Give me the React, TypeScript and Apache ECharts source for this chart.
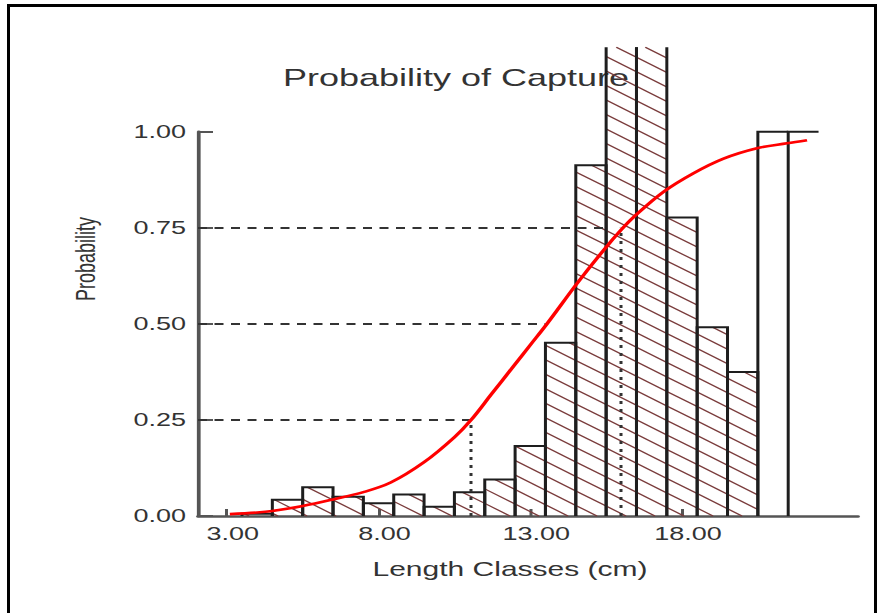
import React, { useEffect, useRef } from "react";
import * as echarts from "echarts";

// ---- text ----
const titleText = "Probability of Capture";
const xAxisName = "Length Classes (cm)";
const yAxisName = "Probability";

// ---- axes ----
const xTickValues = [3, 8, 13, 18];
const xMin = 2.05;
const xMax = 23.8;
const yMin = 0;
const yMax = 1;
const yInterval = 0.25;

// ---- length-frequency bars (hatched) ----
const hatchedCenters = [4, 5, 6, 7, 8, 9, 10, 11, 12, 13, 14, 15, 16, 17, 18, 19, 20];
const hatchedValues = [0.006, 0.042, 0.075, 0.05, 0.033, 0.056, 0.024, 0.062, 0.095, 0.182, 0.451, 0.913, 1.45, 1.4, 0.777, 0.491, 0.375];

// ---- open (white) bars ----
const openCenters = [21, 22];
const openValues = [1.0, 1.0];

// ---- probability of capture curve ----
const curveX = [3.1, 4.0, 4.5, 5.5, 6.5, 7.5, 8.4, 9.5, 10.5, 11.05, 11.7, 12.45, 13.0, 13.55, 14.54, 15.42, 16.0, 16.41, 17.4, 18.38, 19.37, 20.47, 21.46, 22.12];
const curveY = [0.005, 0.009, 0.013, 0.026, 0.043, 0.062, 0.087, 0.14, 0.205, 0.25, 0.315, 0.39, 0.445, 0.5, 0.605, 0.692, 0.745, 0.778, 0.844, 0.892, 0.93, 0.957, 0.97, 0.978];

// ---- reference lines (L25, L50, L75) ----
const levelY = [0.25, 0.5, 0.75];
const levelEndX = [11.05, 13.5, 15.6];
const dropX = [11.05, 15.99];
const dropY = [0.25, 0.75];

// ---- style constants ----
const S = 1.5; // horizontal stretch of the whole picture
const W = 882 / S;
const H = 613;
const BIN_W = 1;
const PLOT_TOP = 1.22;
const HATCH_SLOPE = 0.75;
const HATCH_GAP = 14.5;
const HATCH_COLOR = "#7a3c3c";
const EDGE_COLOR = "#1e1e1e";
const TEXT_COLOR = "#333";
const FONT = "'Liberation Sans', Arial, sans-serif";

function renderHatched(params: any, api: any) {
  const c = api.value(0);
  const v = api.value(1);
  const top = Math.min(v, PLOT_TOP);
  const p0 = api.coord([c - BIN_W / 2, top]);
  const p1 = api.coord([c + BIN_W / 2, 0]);
  const x0 = p0[0], x1 = p1[0], yt = p0[1], yb = p1[1];
  const children: any[] = [];
  const m = HATCH_SLOPE, s = HATCH_GAP;
  const cmin = yt - m * x1;
  const cmax = yb - m * x0;
  for (let n = Math.ceil(cmin / s); n <= Math.floor(cmax / s); n++) {
    const cc = n * s;
    const xa = Math.max(x0, (yt - cc) / m);
    const xb = Math.min(x1, (yb - cc) / m);
    if (xb - xa > 0.3) {
      children.push({
        type: "line",
        shape: { x1: xa, y1: m * xa + cc, x2: xb, y2: m * xb + cc },
        style: { stroke: HATCH_COLOR, lineWidth: 1.2 },
      });
    }
  }
  if (v > PLOT_TOP) {
    children.push({ type: "line", shape: { x1: x0, y1: yb, x2: x0, y2: yt }, style: { stroke: EDGE_COLOR, lineWidth: 2 } });
    children.push({ type: "line", shape: { x1: x1, y1: yb, x2: x1, y2: yt }, style: { stroke: EDGE_COLOR, lineWidth: 2 } });
  } else {
    children.push({
      type: "polyline",
      shape: { points: [[x0, yb], [x0, yt], [x1, yt], [x1, yb]] },
      style: { stroke: EDGE_COLOR, lineWidth: 2, fill: "none" },
    });
  }
  return { type: "group", children };
}

function renderOpen(params: any, api: any) {
  const c = api.value(0);
  const v = api.value(1);
  const p0 = api.coord([c - BIN_W / 2, v]);
  const p1 = api.coord([c + BIN_W / 2, 0]);
  const x0 = p0[0], x1 = p1[0], yt = p0[1], yb = p1[1];
  return {
    type: "polyline",
    shape: { points: [[x0, yb], [x0, yt], [x1, yt]] },
    style: { stroke: EDGE_COLOR, lineWidth: 2, fill: "none" },
  };
}

export default function App() {
  const ref = useRef<HTMLDivElement>(null);

  useEffect(() => {
    if (!ref.current) return;
    const chart = echarts.init(ref.current, null, { renderer: "svg" });

    const dashStyle = { type: [6, 5] as any, color: "#333", width: 2 };
    const dotStyle = { type: [3, 5] as any, color: "#333", width: 2 };
    const markData: any[] = [];
    levelY.forEach((y, i) => {
      markData.push([
        { coord: [xMin, y], lineStyle: dashStyle },
        { coord: [levelEndX[i], y] },
      ]);
    });
    dropX.forEach((x, i) => {
      markData.push([
        { coord: [x, 0], lineStyle: dotStyle },
        { coord: [x, dropY[i]] },
      ]);
    });

    chart.setOption({
      animation: false,
      backgroundColor: "#fff",
      grid: { left: 132, top: 131.7, width: 440, height: 384.3, containLabel: false },
      xAxis: {
        type: "value",
        min: xMin,
        max: xMax,
        axisLine: { show: true, lineStyle: { color: "#555", width: 2.5 } },
        axisTick: { show: true, inside: true, length: 7, customValues: xTickValues, lineStyle: { color: "#555", width: 2 } },
        axisLabel: {
          customValues: xTickValues,
          formatter: (v: number) => v.toFixed(2),
          color: TEXT_COLOR,
          fontFamily: FONT,
          fontSize: 18,
          margin: 9,
          padding: [0, 0, 0, 8],
        },
        splitLine: { show: false },
      },
      yAxis: {
        type: "value",
        min: yMin,
        max: yMax,
        interval: yInterval,
        axisLine: { show: true, lineStyle: { color: "#555", width: 2.5 } },
        axisTick: { show: true, inside: true, length: 10, lineStyle: { color: "#555", width: 2 } },
        axisLabel: {
          formatter: (v: number) => v.toFixed(2),
          color: TEXT_COLOR,
          fontFamily: FONT,
          fontSize: 18,
          margin: 8,
        },
        splitLine: { show: false },
      },
      graphic: [
        {
          type: "text",
          x: 304,
          y: 77,
          style: { text: titleText, fill: TEXT_COLOR, font: `24px ${FONT}`, align: "center", verticalAlign: "middle" },
        },
        {
          type: "text",
          x: 340,
          y: 569,
          style: { text: xAxisName, fill: TEXT_COLOR, font: `20px ${FONT}`, align: "center", verticalAlign: "middle" },
        },
        {
          type: "text",
          x: 57,
          y: 259,
          rotation: Math.PI / 2,
          style: { text: yAxisName, fill: TEXT_COLOR, font: `18px ${FONT}`, align: "center", verticalAlign: "middle" },
        },
      ],
      series: [
        {
          type: "custom",
          name: "hatched",
          renderItem: renderHatched,
          clip: false,
          silent: true,
          z: 2,
          data: hatchedCenters.map((c, i) => [c, hatchedValues[i]]),
        },
        {
          type: "custom",
          name: "open",
          renderItem: renderOpen,
          clip: false,
          silent: true,
          z: 2,
          data: openCenters.map((c, i) => [c, openValues[i]]),
        },
        {
          type: "line",
          name: "curve",
          data: curveX.map((x, i) => [x, curveY[i]]),
          smooth: 0.35,
          showSymbol: false,
          symbol: "none",
          silent: true,
          z: 10,
          lineStyle: { color: "#ff0000", width: 2.6 },
          markLine: {
            silent: true,
            symbol: ["none", "none"],
            label: { show: false },
            emphasis: { disabled: true },
            data: markData,
          },
        },
      ],
    });

    return () => chart.dispose();
  }, []);

  return (
    <div style={{ position: "fixed", left: 0, top: 0, width: 882, height: 613, overflow: "hidden", background: "#fff" }}>
      <div
        ref={ref}
        style={{ position: "absolute", left: 0, top: 0, width: W, height: H, transform: `scaleX(${S})`, transformOrigin: "0 0" }}
      />
      <div
        style={{
          position: "absolute",
          left: 7,
          top: 4,
          width: 870,
          height: 700,
          border: "3px solid #000",
          boxSizing: "border-box",
          pointerEvents: "none",
        }}
      />
    </div>
  );
}
